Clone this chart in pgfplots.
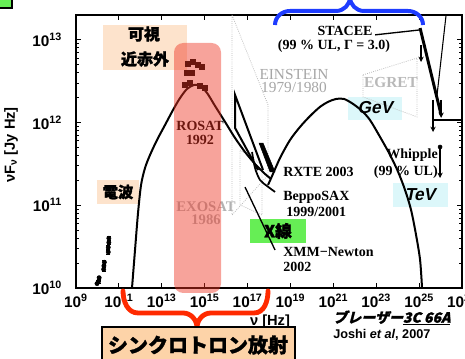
\documentclass[border=0pt]{standalone}
\usepackage{fontspec}
\setmainfont{Liberation Sans}
\newfontfamily\serif{Liberation Serif}
\newfontfamily\jp{Noto Sans CJK JP}[BoldFeatures={FakeBold=1.5}]
\newfontfamily\jpsl{Noto Sans CJK JP}[FakeSlant=0.25,BoldFeatures={FakeBold=1.5}]
\newfontfamily\sansl{Liberation Sans}[FakeSlant=0.2]
\usepackage{pgfplots}
\pgfplotsset{compat=1.18}
\usetikzlibrary{arrows.meta}
\definecolor{peach}{HTML}{FDE3CC}
\definecolor{peachd}{HTML}{FDD3A8}
\definecolor{lblue}{HTML}{DCF7FA}
\definecolor{xgreen}{HTML}{66EE55}
\definecolor{bandred}{HTML}{EE3322}
\definecolor{bracered}{HTML}{FF2A00}
\definecolor{braceblue}{HTML}{1E3CFF}
\begin{document}
\begin{tikzpicture}[x=0.75pt,y=0.75pt]
\path[use as bounding box] (0,0) rectangle (465,359);
% background boxes
\fill[xgreen,draw=black,line width=1pt] (-2,361) rectangle (12,351);
\fill[peach] (103,334) rectangle (187,289);
\fill[peach] (97,179) rectangle (139,155);
\fill[lblue] (348,262) rectangle (402,239);
\fill[lblue] (393,176) rectangle (448,152);
\fill[xgreen] (250,140) rectangle (306,116);
\begin{axis}[at={(57pt,53.25pt)}, anchor=south west, scale only axis,
  width=289.5pt, height=204.75pt,
  xmode=log, ymode=log, xmin=1e9, xmax=1e27, ymin=1e10, ymax=2e13,
  axis line style={line width=1.2pt},
  every tick/.style={black,line width=0.8pt},
  major tick length=4pt, minor tick length=2.5pt,
  xtick={1e9,1e11,1e13,1e15,1e17,1e19,1e21,1e23,1e25,1e27},
  xticklabels={10\textsuperscript{9},10\textsuperscript{11},10\textsuperscript{13},10\textsuperscript{15},10\textsuperscript{17},10\textsuperscript{19},10\textsuperscript{21},10\textsuperscript{23},10\textsuperscript{25},10\textsuperscript{27}},
  xminorticks=false,
  ytick={1e10,1e11,1e12,1e13},
  yticklabels={10\textsuperscript{10},10\textsuperscript{11},10\textsuperscript{12},10\textsuperscript{13}},
  ticklabel style={font=\bfseries\fontsize{11.5}{12}\selectfont},
  xticklabel style={yshift=-1pt},
  yticklabel style={xshift=-7pt},
  clip=true,
]
% gray bowties
\addplot[gray!55,densely dotted,line width=0.6pt] coordinates {(1.89e16,2e13) (9.02e17,1.63e12) (9.02e17,2.32e11) (1.89e16,7.64e10)} -- cycle;
\addplot[gray!55,densely dotted,line width=0.6pt] coordinates {(4.46e16,4.67e11) (4.73e17,3.07e11) (4.73e17,7.64e10) (4.46e16,1.01e11)} -- cycle;
\addplot[gray!55,densely dotted,line width=0.6pt] coordinates {(2.43e22,3.77e12) (8.04e24,6.04e12) (8.04e24,1.17e12) (2.43e22,2.04e12)} -- cycle;
% synchrotron
\addplot[black,line width=1.5pt,smooth,tension=0.5] coordinates {
(4.09e11,1.0e10) (5.65e11,2.88e10) (7.80e11,8.07e10) (1.08e12,1.76e11) (1.65e12,2.82e11)
(2.83e12,4.06e11) (6.0e12,6.16e11) (1.42e13,9.36e11) (3.34e13,1.42e12) (7.09e13,1.98e12)
(1.50e14,2.55e12) (3.19e14,2.85e12) (6.08e14,2.77e12) (1.29e15,2.28e12) (3.04e15,1.59e12)
(8.91e15,1.02e12) (2.61e16,6.51e11) (7.63e16,4.41e11) (2.23e17,3.16e11) (6.53e17,2.39e11) (1.2e18,2.1e11)};
% inverse Compton
\addplot[black,line width=1.5pt,smooth,tension=0.5] coordinates {
(9.0e17,1.76e11) (1.39e18,2.26e11) (3.27e18,3.73e11) (9.58e18,6.16e11) (2.80e19,8.86e11)
(8.21e19,1.20e12) (2.40e20,1.55e12) (5.68e20,1.78e12) (1.34e21,1.93e12) (3.16e21,1.93e12)
(8.30e21,1.68e12) (2.18e22,1.38e12) (5.16e22,1.07e12) (1.51e23,6.70e11) (4.43e23,4.06e11)
(1.05e24,2.53e11) (2.21e24,1.53e11) (4.22e24,8.77e10) (7.21e24,4.37e10) (1.11e25,2.18e10) (1.37e25,1.0e10)};
% XMM
\addplot[black,line width=1pt] coordinates {(7.63e16,1.66e11) (1.91e18,2.88e10)};
% ROSAT bowtie
\addplot[black,line width=1.5pt] coordinates {(5.27e17,2.67e11) (2.61e16,2.16e12) (2.61e16,8.61e11) (3.08e17,2.67e11)};
% RXTE
\addplot[black,fill=black] coordinates {(3.44e17,5.66e11) (5.27e17,5.66e11) (1.91e18,2.53e11) (1.12e18,2.53e11)} -- cycle;
% BeppoSAX
\addplot[black,line width=1.3pt,smooth] coordinates {(1.62e17,4.41e11) (2.23e17,2.82e11) (3.82e17,2.02e11) (8.10e17,1.71e11) (1.91e18,1.45e11)};
% radio
\addplot[only marks,mark=*,mark size=1.6pt,black,error bars/.cd,y dir=both,y explicit relative,error bar style={line width=1pt}] coordinates {
(9.55e9,1.13e10)+-(0,0.03) (1.12e10,1.2e10)+-(0,0.04) (1.2e10,1.33e10)+-(0,0.04)
(1.95e10,1.68e10)+-(0,0.05) (2.0e10,1.85e10)+-(0,0.05) (2.1e10,2.05e10)+-(0,0.05)
(3.2e10,2.72e10)+-(0,0.05) (3.2e10,3.1e10)+-(0,0.05) (3.4e10,3.55e10)+-(0,0.05) (3.4e10,4.0e10)+-(0,0.05)};
% optical
\addplot[only marks,mark=square*,mark size=1.8pt,black] coordinates {
(1.67e14,5.12e12) (2.86e14,5.41e12) (4.90e14,4.97e12) (7.53e14,4.70e12)
(1.50e14,3.98e12) (2.57e14,3.98e12) (1.21e14,2.85e12) (2.07e14,3.02e12) (6.08e14,2.77e12) (1.04e15,2.62e12)};
% TeV
\addplot[black,line width=2.2pt] coordinates {(1.11e25,1.39e13) (1.06e26,1.24e12)};
\addplot[black,line width=0.8pt] coordinates {(1.81e26,2e13) (6.87e25,2.16e12)};
\addplot[black,line width=1pt] coordinates {(8.83e22,1.15e13) (1.11e25,1.32e13)};
\addplot[black,line width=1.2pt,-{Stealth[length=4pt,width=4pt]}] coordinates {(1.23e25,8.67e12) (1.23e25,5.41e12)};
\addplot[black,line width=1.2pt,-{Stealth[length=4pt,width=4pt]}] coordinates {(1.06e26,1.88e12) (1.06e26,1.14e12)};
\addplot[black,line width=1.2pt,-{Stealth[length=4pt,width=4pt]}] coordinates {(4.48e25,1.88e12) (4.48e25,7.69e11)};
\addplot[black,line width=1pt] coordinates {(4.48e25,1.07e12) (1e27,1.07e12)};
\addplot[black,line width=1pt,-{Stealth[length=4pt,width=4pt]}] coordinates {(9.48e25,5.07e11) (9.48e25,2.14e11)};
\addplot[only marks,mark=*,mark size=1.5pt,black] coordinates {(9.48e25,5.07e11)};
\end{axis}
% texts
\node[font=\bfseries\fontsize{11}{12}\selectfont,rotate=90] at (11,214) {νF\textsubscript{ν} [Jy Hz]};
\node[font=\bfseries\fontsize{11}{12}\selectfont] at (270,37) {ν [Hz]};
\node[font=\serif\bfseries\fontsize{10.5}{12}\selectfont] at (345,328) {STACEE};
\node[font=\serif\bfseries\fontsize{10.5}{12}\selectfont] at (334,313) {(99 \% UL, Γ = 3.0)};
\node[font=\serif\fontsize{11.5}{12}\selectfont,text=gray!70,align=center] at (294,278) {EINSTEIN\\[-2pt]1979/1980};
\node[font=\serif\bfseries\fontsize{11.5}{12}\selectfont,text=gray!55] at (391,276) {EGRET};
\node[font=\serif\bfseries\fontsize{10.5}{12}\selectfont,align=center] at (200,226) {ROSAT\\[-2pt]1992};
\node[font=\serif\bfseries\fontsize{11}{12}\selectfont,text=gray!60,align=center] at (206,146) {EXOSAT\\[-2pt]1986};
\node[font=\serif\bfseries\fontsize{10.5}{12}\selectfont,anchor=west,inner sep=0] at (283,187) {RXTE 2003};
\node[font=\serif\bfseries\fontsize{10.5}{12}\selectfont,anchor=west,inner sep=0] at (283,162) {BeppoSAX};
\node[font=\serif\bfseries\fontsize{10.5}{12}\selectfont,anchor=west,inner sep=0] at (286,147) {1999/2001};
\node[font=\serif\bfseries\fontsize{10.5}{12}\selectfont,anchor=west,inner sep=0] at (283,107) {XMM−Newton};
\node[font=\serif\bfseries\fontsize{10.5}{12}\selectfont,anchor=west,inner sep=0] at (283,92) {2002};
\node[font=\serif\bfseries\fontsize{10.5}{12}\selectfont,anchor=east,inner sep=0] at (438,204) {Whipple};
\node[font=\serif\bfseries\fontsize{10.5}{12}\selectfont,anchor=east,inner sep=0] at (438,187) {(99 \% UL)};
\node[font=\sansl\bfseries\fontsize{13}{13}\selectfont] at (375,251) {GeV};
\node[font=\sansl\bfseries\fontsize{13}{13}\selectfont] at (420,164) {TeV};
\node[font=\jp\bfseries\fontsize{12.5}{13}\selectfont] at (278,128) {X線};
\node[font=\jp\bfseries\fontsize{11.5}{12}\selectfont] at (118,167) {電波};
\node[font=\jp\bfseries\fontsize{12}{12}\selectfont] at (144,325) {可視};
\node[font=\jp\bfseries\fontsize{12}{12}\selectfont] at (145,300) {近赤外};
% red band
\fill[bandred,opacity=0.45,rounded corners=7pt] (174,316) rectangle (221,66);
% braces
\draw[bracered,line width=3.6pt,line cap=round] (123,68) to[out=-90,in=180] (138,46) -- (183,46) to[out=0,in=90] (197,31) to[out=90,in=180] (211,46) -- (254,46) to[out=0,in=-90] (268,68);
\draw[braceblue,line width=3pt] (275,334) to[out=90,in=180] (290,348) -- (336,348) to[out=0,in=-90] (350,362) to[out=-90,in=180] (364,348) -- (408,348) to[out=0,in=90] (423,334);
% bottom box
\fill[peachd,draw=black,line width=1.2pt] (102,32) rectangle (295,-5);
\node[font=\jp\bfseries\fontsize{15}{16}\selectfont] at (198,14) {シンクロトロン放射};
\node[font=\jpsl\bfseries\fontsize{10.5}{12}\selectfont,anchor=west,inner sep=0] at (333,41) {ブレーザー\underline{3C 66A}};
\node[font=\bfseries\fontsize{9.5}{12}\selectfont,anchor=west,inner sep=0] at (333,24) {Joshi \textit{et al}, 2007};
\end{tikzpicture}
\end{document}
